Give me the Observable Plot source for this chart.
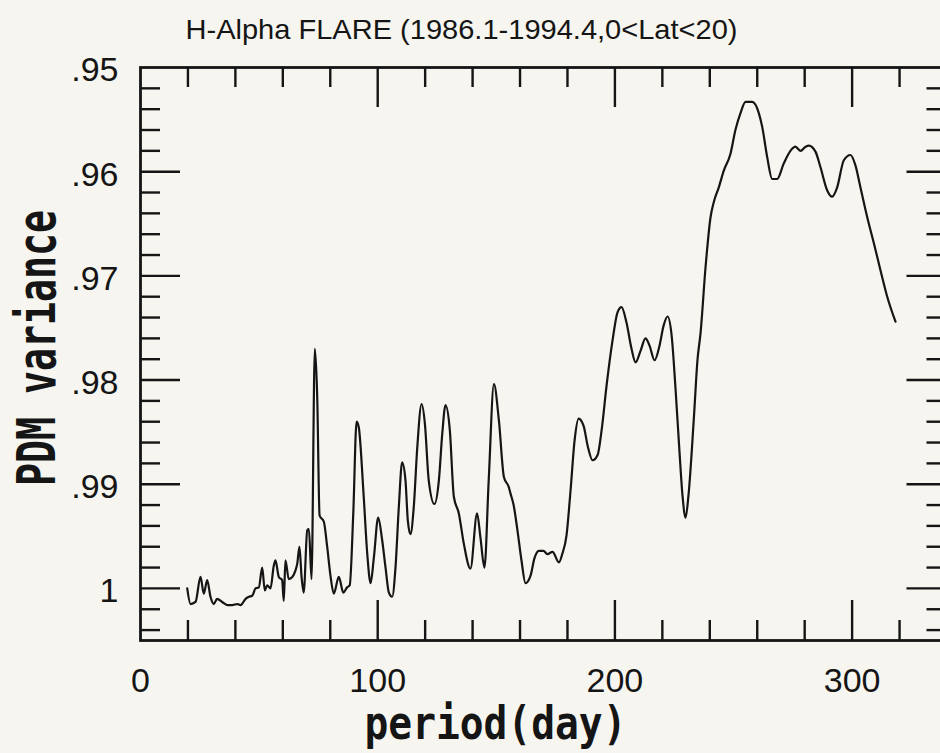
<!DOCTYPE html>
<html><head><meta charset="utf-8">
<script src="https://cdn.jsdelivr.net/npm/d3@7"></script>
<script src="https://cdn.jsdelivr.net/npm/@observablehq/plot@0.6"></script>
<style>
html,body{margin:0;padding:0;background:#f7f5ef;overflow:hidden;width:940px;height:753px}
#chart{width:940px;height:753px;overflow:hidden}
#chart svg{display:block;max-width:none !important;width:960px !important;height:753px !important}
</style></head><body><div id="chart"></div>
<script>
const title = "H-Alpha FLARE (1986.1-1994.4,0<Lat<20)";
const xLabel = "period(day)";
const yLabel = "PDM variance";
const xTickValues = [0, 100, 200, 300];
const xTickLabels = ["0", "100", "200", "300"];
const yTickValues = [0.95, 0.96, 0.97, 0.98, 0.99, 1];
const yTickLabels = [".95", ".96", ".97", ".98", ".99", "1"];
const xMinorTicks = [20, 40, 60, 80, 120, 140, 160, 180, 220, 240, 260, 280, 320];
const xMajorTicks = [100, 200, 300];
const yMinorTicks = [0.952, 0.954, 0.956, 0.958, 0.962, 0.964, 0.966, 0.968, 0.972, 0.974, 0.976, 0.978,
  0.982, 0.984, 0.986, 0.988, 0.992, 0.994, 0.996, 0.998, 1.002, 1.004];
const yMajorTicks = [0.96, 0.97, 0.98, 0.99, 1];

const period = [19.7,21.1,23.2,25.3,26.7,28.1,29.5,30.9,32.3,34.4,
36.6,38.7,40.8,42.2,44.3,45.7,47.1,48.5,49.9,51.3,
52.4,53.4,54.8,56.2,56.9,58.3,59.7,60.4,61.1,62.5,
64.0,65.3,66.1,67.0,67.9,68.8,70.3,71.0,72.1,73.5,
74.5,75.5,77.3,78.7,80.1,81.5,83.6,85.5,87.1,88.2,
89.7,91.1,92.0,94.1,95.6,97.0,98.4,100.2,101.9,103.3,
104.7,106.1,107.5,108.9,110.3,111.7,112.7,113.8,115.2,116.7,
118.5,119.9,121.5,123.9,125.8,127.2,128.6,130.4,132.1,134.2,
136.3,139.1,141.9,143.3,145.0,146.8,149.0,151.1,153.2,155.3,
156.0,157.3,158.9,160.6,162.3,164.4,166.1,167.9,169.9,171.5,
173.7,176.4,177.8,179.6,181.3,183.0,184.7,186.8,188.5,190.6,
192.7,194.4,196.5,199.0,201.1,202.8,204.9,207.0,208.7,210.8,
212.9,214.6,216.7,218.8,220.5,222.2,223.9,225.6,227.2,228.5,
229.8,231.0,233.3,234.8,236.1,238.2,240.3,241.7,243.8,245.9,
248.7,250.8,252.9,255.1,257.9,260.7,262.1,264.2,266.3,268.4,
271.2,274.0,276.1,278.2,280.4,281.8,284.6,286.7,289.5,291.6,
293.7,296.5,299.3,301.4,303.5,306.4,309.2,312.0,314.8,318.3];

const pdm = [1.0000,1.0015,1.0013,0.9989,1.0005,0.9992,1.0008,1.0015,1.0010,1.0013,
1.0016,1.0016,1.0015,1.0016,1.0010,1.0008,1.0007,1.0000,0.9999,0.9980,
1.0002,0.9997,1.0000,0.9978,0.9973,0.9989,0.9992,1.0012,0.9973,0.9991,
0.9989,0.9983,0.9976,0.9960,0.9989,1.0004,0.9944,0.9943,0.9991,0.9770,
0.9816,0.9930,0.9936,0.9960,0.9988,1.0005,0.9989,1.0004,0.9999,0.9997,
0.9928,0.9840,0.9845,0.9912,0.9967,0.9995,0.9970,0.9932,0.9954,0.9980,
1.0004,1.0008,0.9980,0.9922,0.9879,0.9896,0.9935,0.9948,0.9922,0.9864,
0.9823,0.9842,0.9896,0.9919,0.9896,0.9852,0.9824,0.9848,0.9912,0.9928,
0.9957,0.9981,0.9928,0.9951,0.9980,0.9896,0.9804,0.9839,0.9893,0.9903,
0.9909,0.9920,0.9944,0.9973,0.9995,0.9988,0.9971,0.9964,0.9964,0.9967,
0.9965,0.9975,0.9967,0.9949,0.9906,0.9858,0.9837,0.9844,0.9863,0.9877,
0.9872,0.9848,0.9805,0.9762,0.9735,0.9730,0.9745,0.9770,0.9783,0.9772,
0.9760,0.9767,0.9781,0.9767,0.9748,0.9739,0.9757,0.9810,0.9868,0.9911,
0.9932,0.9911,0.9836,0.9781,0.9755,0.9692,0.9644,0.9629,0.9615,0.9599,
0.9583,0.9560,0.9544,0.9533,0.9533,0.9544,0.9557,0.9586,0.9607,0.9607,
0.9592,0.9580,0.9576,0.9580,0.9576,0.9575,0.9581,0.9596,0.9618,0.9624,
0.9615,0.9589,0.9584,0.9594,0.9615,0.9644,0.9669,0.9695,0.9720,0.9744];

const data = period.map((p, i) => ({period: p, pdm: pdm[i]}));

const W = 960, H = 753, mL = 140, mR = 13.5, mT = 67, mB = 113;
const fW = W - mL - mR, fH = H - mT - mB;
const ink = "#151515";
const tickFont = "'Liberation Sans', Arial, sans-serif";
const labelFont = "'DejaVu Sans Mono', monospace";
const minorLen = 20, majorLen = 40, tickW = 2.4;

const chart = Plot.plot({
  width: W, height: H,
  marginLeft: mL, marginRight: mR, marginTop: mT, marginBottom: mB,
  style: {background: "transparent", color: ink},
  x: {domain: [0, 340], axis: null},
  y: {domain: [0.95, 1.005], reverse: true, axis: null},
  marks: [
    Plot.ruleX(xMinorTicks, {x: d => d, insetTop: fH - minorLen, stroke: ink, strokeWidth: tickW}),
    Plot.ruleX(xMajorTicks, {x: d => d, insetTop: fH - majorLen, stroke: ink, strokeWidth: tickW}),
    Plot.ruleX(xMinorTicks, {x: d => d, insetBottom: fH - minorLen, stroke: ink, strokeWidth: tickW}),
    Plot.ruleX(xMajorTicks, {x: d => d, insetBottom: fH - majorLen, stroke: ink, strokeWidth: tickW}),
    Plot.ruleY(yMinorTicks, {y: d => d, insetRight: fW - minorLen, stroke: ink, strokeWidth: tickW}),
    Plot.ruleY(yMajorTicks, {y: d => d, insetRight: fW - majorLen, stroke: ink, strokeWidth: tickW}),
    Plot.ruleY(yMinorTicks, {y: d => d, insetLeft: fW - minorLen, stroke: ink, strokeWidth: tickW}),
    Plot.ruleY(yMajorTicks, {y: d => d, insetLeft: fW - majorLen, stroke: ink, strokeWidth: tickW}),
    Plot.frame({stroke: ink, strokeWidth: 2.8}),
    Plot.line(data, {x: "period", y: "pdm", stroke: ink, strokeWidth: 2.2, strokeLinejoin: "round", curve: "monotone-x"}),
    Plot.text(xTickValues, {x: d => d, text: (d, i) => xTickLabels[i], frameAnchor: "bottom", dy: 51,
      lineAnchor: "bottom", fontSize: 34, fontFamily: tickFont, fill: ink}),
    Plot.text(yTickValues, {y: d => d, text: (d, i) => yTickLabels[i], frameAnchor: "left", dx: -22, dy: 3,
      textAnchor: "end", lineAnchor: "middle", fontSize: 34, fontFamily: tickFont, fill: ink}),
    Plot.text([title], {frameAnchor: "top-left", dx: 321, dy: -29, textAnchor: "middle", lineAnchor: "bottom",
      fontSize: 28, fontFamily: tickFont, fill: ink}),
    Plot.text([xLabel], {frameAnchor: "bottom-left", dx: 355, dy: 98, textAnchor: "middle", lineAnchor: "bottom",
      fontSize: 46, fontWeight: "bold", fontFamily: labelFont, fill: ink}),
    Plot.text([yLabel], {frameAnchor: "left", dx: -86, dy: -6, rotate: -90, textAnchor: "middle", lineAnchor: "bottom",
      fontSize: 54, fontWeight: "bold", fontFamily: labelFont, fill: ink})
  ]
});
document.getElementById("chart").appendChild(chart);

chart.querySelectorAll("text").forEach(t => {
  const s = t.textContent;
  if (s === xLabel) { t.setAttribute("textLength", 262); t.setAttribute("lengthAdjust", "spacingAndGlyphs"); }
  if (s === yLabel) { t.setAttribute("textLength", 276); t.setAttribute("lengthAdjust", "spacingAndGlyphs"); }
  if (s === title) { t.setAttribute("textLength", 552); t.setAttribute("lengthAdjust", "spacingAndGlyphs"); }
});
</script></body></html>
